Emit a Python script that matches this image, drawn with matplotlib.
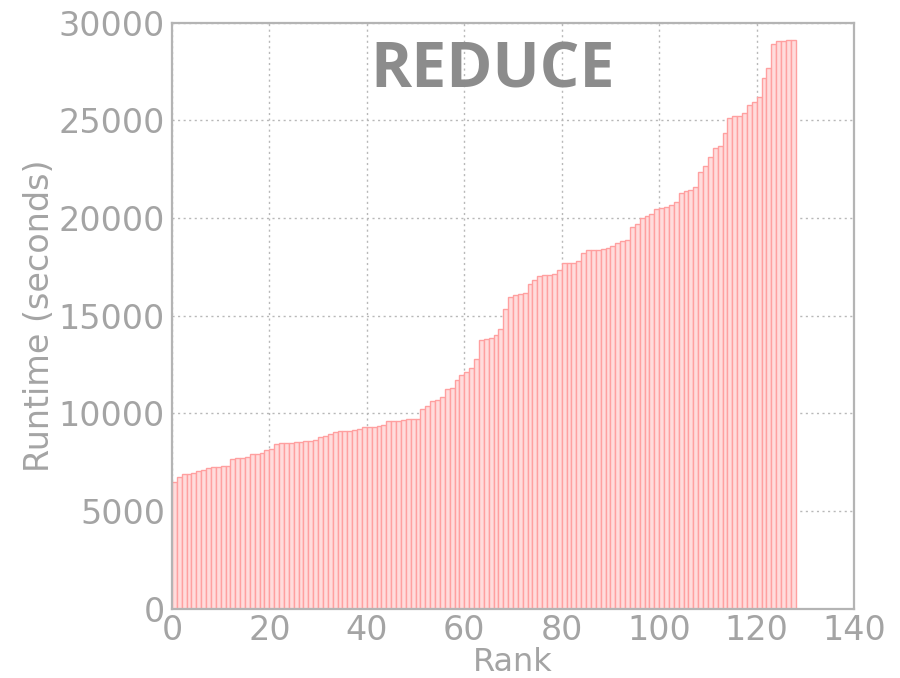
import numpy as np
import matplotlib
matplotlib.use('Agg')
import matplotlib.pyplot as plt

# reduce-task runtimes, sorted ascending
runtime = [
    6500, 6770, 6900, 6920, 6940, 7040, 7110, 7220, 7250, 7280,
    7290, 7330, 7680, 7700, 7720, 7790, 7900, 7950, 7990, 8140,
    8190, 8460, 8480, 8480, 8500, 8530, 8540, 8600, 8610, 8640,
    8800, 8830, 8960, 9060, 9080, 9080, 9090, 9160, 9180, 9300,
    9300, 9320, 9380, 9420, 9600, 9600, 9620, 9650, 9720, 9720,
    9730, 10240, 10400, 10620, 10700, 10830, 11270, 11300, 11730, 11950,
    12120, 12350, 12800, 13740, 13830, 13850, 14000, 14340, 15370, 15960,
    16050, 16120, 16170, 16650, 16820, 17060, 17080, 17100, 17160, 17330,
    17680, 17700, 17720, 17780, 18190, 18360, 18380, 18390, 18420, 18480,
    18550, 18700, 18850, 18880, 19550, 19720, 19980, 20100, 20200, 20450,
    20520, 20560, 20650, 20800, 21270, 21380, 21420, 21610, 22380, 22680,
    23150, 23570, 23690, 24340, 25110, 25200, 25250, 25400, 25790, 25960,
    26220, 27160, 27680, 28920, 29040, 29050, 29100, 29130,
]
rank = np.arange(len(runtime))

xticks = [0, 20, 40, 60, 80, 100, 120, 140]
yticks = [0, 5000, 10000, 15000, 20000, 25000, 30000]

grey = '#a4a4a4'

fig = plt.figure(figsize=(9, 6.78), dpi=100)
ax = fig.add_axes([0.191, 0.102, 0.758, 0.8645])

ax.bar(rank, runtime, width=1.0, align='edge',
       facecolor='#ffdcdc', edgecolor='#ffa0a0', linewidth=1.0, zorder=2)

ax.set_xlim(0, 140)
ax.set_ylim(0, 30000)
ax.set_xticks(xticks)
ax.set_yticks(yticks)
ax.grid(True, linestyle=(0, (1.5, 2.5)), color='#b8b8b8', linewidth=1.0, zorder=0)
ax.set_axisbelow(True)

ax.tick_params(length=0, labelsize=24, labelcolor=grey)
ax.tick_params(axis='x', pad=4)
ax.tick_params(axis='y', pad=5)
for s in ax.spines.values():
    s.set_color('#b4b4b4')
    s.set_linewidth(1.6)

ax.set_xlabel('Rank', fontsize=23, color=grey, labelpad=0)
ax.set_ylabel('Runtime (seconds)', fontsize=24, color=grey, labelpad=2)

ax.text(0.47, 0.918, 'REDUCE', transform=ax.transAxes, ha='center', va='center',
        fontsize=45, fontweight='bold', family='Open Sans', color='#8c8c8c')

fig.savefig('out.png', dpi=100)
